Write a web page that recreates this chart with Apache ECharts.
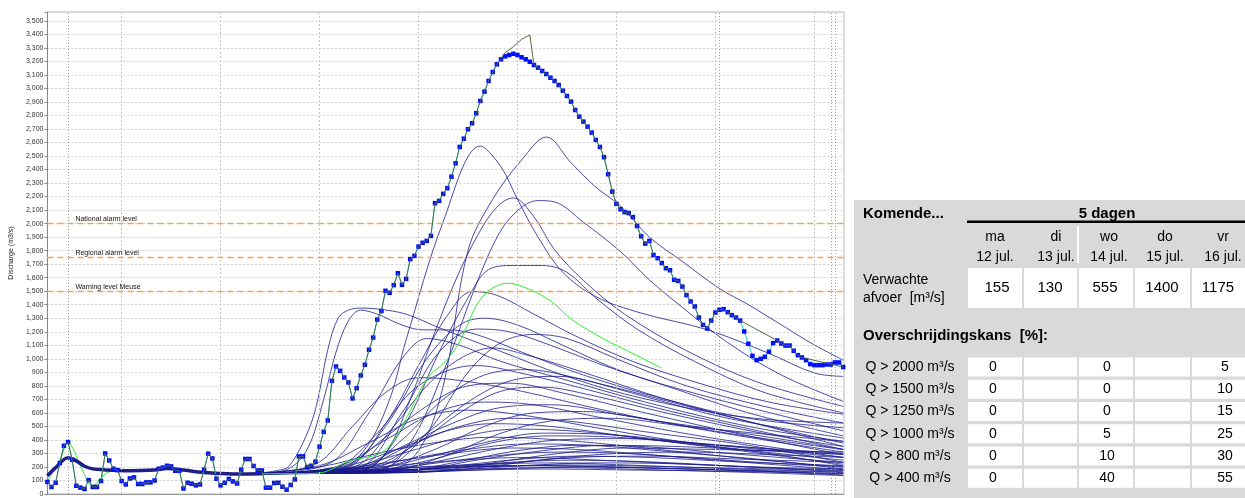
<!DOCTYPE html>
<html><head><meta charset="utf-8">
<script src="https://cdn.jsdelivr.net/npm/echarts@6/dist/echarts.min.js"></script>
<style>html,body{margin:0;padding:0;background:#fff}#c{width:1245px;height:498px}</style>
</head><body><div id="c"></div><script>
// ---------- DATA ----------
// observed discharge (m3/s), hourly, hour 0..193
const obsFlow = [
89,52,83,229,357,384,253,61,47,37,
103,52,52,96,300,248,187,177,96,71,
115,123,74,74,86,86,100,187,195,209,
204,172,172,41,83,76,64,71,180,298,
263,113,64,83,111,93,78,180,259,259,
207,174,174,47,47,81,83,54,32,67,
108,278,278,200,209,239,350,460,544,837,
943,911,862,825,707,783,877,956,1067,1157,
1290,1353,1503,1488,1545,1633,1547,1591,1737,1761,
1830,1858,1872,1909,2151,2168,2220,2262,2347,2446,
2567,2628,2698,2742,2816,2907,2976,3055,3121,3178,
3215,3237,3247,3256,3247,3230,3215,3197,3173,3153,
3129,3106,3079,3055,3025,2983,2944,2902,2840,2791,
2754,2717,2673,2619,2567,2491,2365,2237,2146,2106,
2085,2078,2048,1982,1906,1852,1872,1768,1744,1708,
1670,1655,1584,1576,1534,1471,1424,1387,1305,1251,
1224,1283,1342,1362,1367,1345,1323,1305,1283,1202,
1111,1022,990,1000,1015,1052,1116,1135,1113,1098,
1098,1059,1027,1010,990,961,953,953,953,958,
958,973,973,939];
// raw gauge line: overshoot at the peak, and hour ranges without raw values
const rawPeak = [[111,3264],[113,3308],[115,3363],[117,3395]];
const rawGaps = [[110,117],[169,176],[184,192]];
// common hindcast of all members (hour, m3/s)
const hindcast = [[0,135],[2,195],[5,268],[7,245],[9,205],[11,186],[14,178],[20,172],[26,178],[29,188],[32,182],[36,165],[40,155],[46,148],[52,150]];
// highlighted (green) member
const greenMember = [[0,95],[3,250],[5,380],[8,210],[10,80],[11,60],[13,120],[15,165],[18,175],[24,172],[30,185],[40,155],[50,150],[60,150],[65.7,154],[72.9,241],[80.9,303],[84.1,402],[87.3,574],[90.5,771],[92.9,882],[96.1,968],[99.3,1091],[101.7,1239],[104.1,1399],[107.3,1510],[111.7,1559],[115.3,1534],[121.7,1436],[127.3,1288],[135.3,1140],[141,1054],[146.6,968],[149,931]];
// ensemble members (hour, m3/s)
const members = [
[[50,150],[82,170],[90,320],[96,800],[102,1800],[108,2180],[115,2470],[121,2640],[127,2450],[133,2270],[139,2130],[146,1900],[154,1720],[163,1520],[170,1400],[177,1270],[185,1120],[193,990]],
[[50,150],[70,175],[77,330],[83,700],[87,1140],[96,2015],[105,2574],[110,2420],[114,2180],[119,1900],[125,1640],[133,1460],[144,1338],[160,1215],[175,1040],[186,895],[193,870]],
[[50,150],[76,175],[82,300],[88,700],[94,1200],[100,1650],[106,2000],[110,2150],[113,2190],[118,2050],[123,1806],[130,1580],[140,1330],[155,1060],[172,830],[193,648]],
[[50,150],[80,170],[88,380],[96,900],[104,1550],[110,1950],[115,2120],[119,2170],[123,2160],[130,2010],[139,1793],[146,1584],[154,1380],[165,1120],[178,880],[193,685]],
[[50,150],[76,175],[86,480],[95,1050],[102,1450],[107,1660],[113,1690],[120,1690],[126,1640],[133,1450],[143,1220],[157,980],[173,760],[193,600]],
[[50,150],[72,190],[82,520],[90,950],[97,1320],[103,1497],[109,1470],[118,1330],[128,1170],[142,980],[158,820],[175,680],[193,590]],
[[50,150],[56,175],[58.5,204],[62,380],[65,623],[68,1067],[70.5,1300],[73,1360],[76,1375],[81,1365],[87,1330],[95,1230],[110,1054],[125,880],[140,740],[160,610],[175,550],[193,525]],
[[50,150],[58,180],[63,330],[67,700],[70,1050],[73,1280],[76,1360],[80,1330],[86,1250],[91,1214],[97,1214],[104,1180],[115,1050],[130,880],[150,700],[170,560],[193,490]],
[[50,150],[72,200],[82,500],[92,1000],[100,1250],[106,1300],[114,1250],[125,1100],[140,900],[160,720],[178,580],[193,467]],
[[50,150],[75,190],[86,600],[95,1050],[104,1220],[112,1200],[122,1100],[135,950],[150,800],[170,600],[193,430]],
[[50,150],[68,220],[78,600],[86,1000],[92,1150],[100,1100],[110,980],[125,850],[145,680],[170,500],[193,390]],
[[50,150],[80,180],[92,450],[102,900],[110,1120],[118,1180],[126,1150],[138,1000],[155,800],[175,640],[193,525]],
[[50,150],[74,200],[84,500],[92,800],[100,1000],[108,1080],[116,1030],[130,900],[150,700],[172,520],[193,352]],
[[50,150],[70,200],[80,450],[88,750],[96,900],[104,950],[114,900],[130,780],[150,620],[175,450],[193,330]],
[[50,150],[76,190],[86,400],[96,700],[106,880],[116,920],[128,860],[145,720],[165,560],[193,414]],
[[50,150],[65,220],[74,500],[82,750],[90,860],[100,840],[115,760],[135,620],[160,470],[193,310]],
[[50,150],[80,200],[92,450],[104,720],[114,850],[124,870],[136,800],[155,650],[175,500],[193,377]],
[[50,150],[72,210],[82,420],[92,650],[102,800],[112,820],[126,740],[145,600],[170,430],[193,291]],
[[50,150],[78,200],[90,380],[100,600],[110,760],[120,790],[132,730],[150,600],[175,440],[193,352]],
[[50,150],[70,200],[82,400],[94,600],[106,680],[118,660],[135,560],[160,420],[193,271]],
[[50,150],[74,190],[86,350],[98,520],[110,640],[122,660],[140,580],[165,450],[193,328]],
[[50,150],[66,210],[78,380],[90,560],[102,620],[116,580],[135,480],[160,360],[193,250]],
[[50,150],[80,190],[94,330],[106,500],[118,600],[130,610],[150,530],[175,420],[193,330]],
[[50,150],[76,200],[88,360],[100,500],[112,560],[126,540],[145,460],[170,360],[193,234]],
[[50,150],[84,180],[98,300],[110,450],[122,540],[136,560],[155,500],[175,440],[193,389]],
[[50,150],[70,190],[84,320],[96,460],[108,520],[122,500],[142,420],[168,320],[193,220]],
[[50,150],[72,190],[86,300],[100,420],[114,480],[130,460],[150,390],[175,300],[193,209]],
[[50,150],[78,180],[92,270],[106,380],[120,450],[136,440],[156,380],[176,320],[193,271]],
[[50,150],[66,200],[80,300],[94,380],[108,420],[124,400],[145,340],[170,260],[193,200]],
[[50,150],[82,170],[96,250],[110,340],[124,400],[140,410],[160,370],[180,320],[193,293]],
[[50,150],[74,180],[88,260],[102,330],[116,370],[132,360],[152,310],[175,250],[193,185]],
[[50,150],[86,170],[100,240],[114,320],[128,360],[145,350],[165,300],[193,234]],
[[50,150],[70,180],[84,240],[98,300],[112,340],[128,330],[150,280],[175,220],[193,180]],
[[50,150],[76,170],[92,220],[108,280],[124,310],[140,300],[160,260],[180,220],[193,200]],
[[50,150],[80,165],[96,200],[112,250],[128,280],[146,270],[166,240],[193,209]],
[[50,150],[68,170],[84,210],[100,250],[116,270],[134,250],[156,220],[178,190],[193,175]],
[[50,150],[78,160],[94,190],[110,230],[126,250],[144,240],[164,210],[193,165]],
[[50,150],[72,165],[90,200],[106,220],[122,230],[140,215],[162,190],[184,170],[193,160]],
[[50,150],[84,160],[100,180],[116,210],[132,230],[150,225],[172,200],[193,185]],
[[50,150],[70,160],[88,180],[104,200],[120,210],[138,200],[160,180],[193,150]],
[[50,150],[80,155],[98,170],[114,190],[130,200],[150,190],[172,170],[193,140]],
[[50,150],[66,158],[86,175],[104,185],[124,195],[146,180],[170,160],[193,136]],
[[50,150],[76,160],[96,190],[112,230],[128,270],[146,280],[166,260],[193,234]],
[[50,150],[90,160],[106,200],[122,260],[138,300],[156,310],[176,290],[193,271]],
[[50,150],[88,170],[104,250],[120,320],[136,360],[154,350],[174,320],[193,293]],
[[50,150],[92,165],[108,230],[124,300],[140,340],[160,330],[193,310]],
[[50,150],[74,165],[92,200],[110,210],[128,205],[148,190],[170,175],[193,160]],
[[50,150],[82,158],[102,175],[120,185],[140,178],[165,168],[193,150]],
[[50,150],[70,160],[90,185],[108,205],[126,215],[146,205],[168,190],[193,175]],
[[50,150],[78,170],[94,260],[108,380],[122,430],[138,420],[158,370],[178,330],[193,300]]
];
// alarm levels
const levelValues = [2000, 1750, 1500];
const levelNames = ['National alarm level', 'Regional alarm level', 'Warning level Meuse'];
// day boundaries (hours) and marker lines (hours)
const dayLines = [18, 42, 66, 90, 114, 138, 162, 186];
const markerLines = [5, 163, 190, 191];
// table
const tableDays = ['ma','di','wo','do','vr'];
const tableDates = ['12 jul.','13 jul.','14 jul.','15 jul.','16 jul.'];
const expectedFlow = [155, 130, 555, 1400, 1175];
const exceedLabels = ['Q > 2000 m³/s','Q > 1500 m³/s','Q > 1250 m³/s','Q > 1000 m³/s','Q > 800 m³/s','Q > 400 m³/s'];
const exceedDay1 = [0, 0, 0, 0, 0, 0];
const exceedDay3 = [0, 0, 0, 5, 10, 40];
const exceedDay5 = [5, 10, 15, 25, 30, 55];

// ---------- BUILD ----------
const obsData = obsFlow.map((v, i) => [i, v]);
const rawMap = obsFlow.slice();
rawGaps.forEach(([a, b]) => { for (let i = a; i <= b; i++) rawMap[i] = '-'; });
rawPeak.forEach(([t, v]) => { rawMap[t] = v; });
const rawData = rawMap.map((v, i) => [i, v]);

const series = [];
series.push({
  type: 'line', data: [], silent: true, z: 1,
  markLine: { silent: true, symbol: ['none','none'], label: {show: false}, animation: false,
    data: dayLines.map(h => ({ xAxis: h, lineStyle: {type: [2,2], color: '#c6c6c6', width: 1} }))
      .concat(markerLines.map(h => ({ xAxis: h, lineStyle: {type: [1,2], color: '#9a9a9a', width: 1} })))
  }
});
members.forEach(m => series.push({
  type: 'line', data: m, smooth: 0.35, showSymbol: false, silent: true, z: 2,
  lineStyle: { color: 'rgba(24,24,140,0.78)', width: 1 }
}));
series.push({
  type: 'line', data: greenMember, smooth: 0.35, showSymbol: false, silent: true, z: 3,
  lineStyle: { color: '#2cf02c', width: 1 }
});
series.push({
  type: 'line', data: hindcast, smooth: 0.35, showSymbol: false, silent: true, z: 3,
  lineStyle: { color: '#1e1e88', width: 3.5 }
});
series.push({
  type: 'line', data: [], silent: true, z: 4,
  markLine: { silent: true, symbol: ['none','none'], animation: false,
    lineStyle: { type: [6,4], color: '#f5a058', width: 1.4 },
    data: levelValues.map((v, i) => ({ yAxis: v, label: { show: true, formatter: levelNames[i],
      position: 'insideStartTop', distance: [28, 1], fontSize: 7, color: '#111', fontFamily: 'Arial' } }))
  }
});
series.push({
  type: 'line', data: obsData, showSymbol: true, symbol: 'rect', symbolSize: 4.5, silent: true, z: 5,
  lineStyle: { color: '#10d8e8', width: 1 }, itemStyle: { color: '#0010ff' }
});
series.push({
  type: 'line', data: rawData, connectNulls: true, showSymbol: false, silent: true, z: 6,
  lineStyle: { color: '#4f6c44', width: 1 }
});

// table graphics
const g = [];
g.push({ type: 'rect', shape: {x: 854, y: 200, width: 391, height: 298}, style: {fill: '#d9d9d9'} });
function txt(t, x, y, font, align) {
  g.push({ type: 'text', x: x, y: y, style: { text: t, font: font, fill: '#000', align: align || 'center', verticalAlign: 'middle' } });
}
function cell(x0, x1, y0, y1) {
  g.push({ type: 'rect', shape: {x: x0, y: y0, width: x1 - x0, height: y1 - y0}, style: {fill: '#fff'} });
}
const colBounds = [[968,1022],[1024,1077],[1079,1133],[1135,1190],[1192,1250]];
const headX = [995, 1056, 1109, 1165, 1223];
txt('Komende...', 863, 214, 'bold 15px Arial', 'left');
txt('5 dagen', 1107, 214, 'bold 15px Arial');
g.push({ type: 'rect', shape: {x: 967, y: 220.5, width: 278, height: 2.5}, style: {fill: '#000'} });
g.push({ type: 'rect', shape: {x: 1077, y: 226, width: 2, height: 37}, style: {fill: '#fff'} });
tableDays.forEach((d, i) => { txt(d, headX[i], 237, '14px Arial'); txt(tableDates[i], headX[i], 257, '14px Arial'); });
colBounds.forEach(([a, b]) => cell(a, b, 268, 308));
txt('Verwachte', 863, 280, '14px Arial', 'left');
txt('afvoer  [m³/s]', 863, 298, '14px Arial', 'left');
const valX = [997, 1050, 1105, 1162, 1218];
expectedFlow.forEach((v, i) => txt(String(v), valX[i], 288, '15px Arial'));
txt('Overschrijdingskans  [%]:', 863, 336, 'bold 15px Arial', 'left');
const rowY = [367, 389.3, 411.5, 433.8, 456, 478.2];
exceedLabels.forEach((lab, r) => {
  colBounds.forEach(([a, b]) => cell(a, b, rowY[r] - 9.5, rowY[r] + 9.5));
  txt(lab, 910, rowY[r], '14px Arial');
  txt(String(exceedDay1[r]), 993, rowY[r], '14px Arial');
  txt(String(exceedDay3[r]), 1107, rowY[r], '14px Arial');
  txt(String(exceedDay5[r]), 1225, rowY[r], '14px Arial');
});

const chart = echarts.init(document.getElementById('c'), null, {renderer: 'canvas'});
chart.setOption({
  animation: false,
  backgroundColor: '#fff',
  grid: { left: 40, right: 401, top: 12, bottom: 4, show: true, borderColor: '#b8b8b8', borderWidth: 1 },
  xAxis: { type: 'value', min: 0, max: 193.2,
    axisLine: {show: true, lineStyle: {color: '#999'}}, axisTick: {show: false},
    axisLabel: {show: false}, splitLine: {show: false} },
  yAxis: { type: 'value', min: 0, max: 3565, interval: 100,
    name: 'Discharge (m3/s)', nameLocation: 'middle', nameGap: 26,
    nameTextStyle: {fontSize: 7, color: '#222', fontFamily: 'Arial'},
    axisLine: {show: true, lineStyle: {color: '#888'}},
    axisTick: {show: true, length: 3, lineStyle: {color: '#888'}},
    axisLabel: {fontSize: 7, color: '#333', margin: 4, fontFamily: 'Arial',
      formatter: v => (v % 100 ? '' : v.toLocaleString('en-US'))},
    splitLine: {show: true, lineStyle: {type: [2,2], color: '#d0d0d0'}} },
  series: series,
  graphic: { elements: g }
});
</script></body></html>
